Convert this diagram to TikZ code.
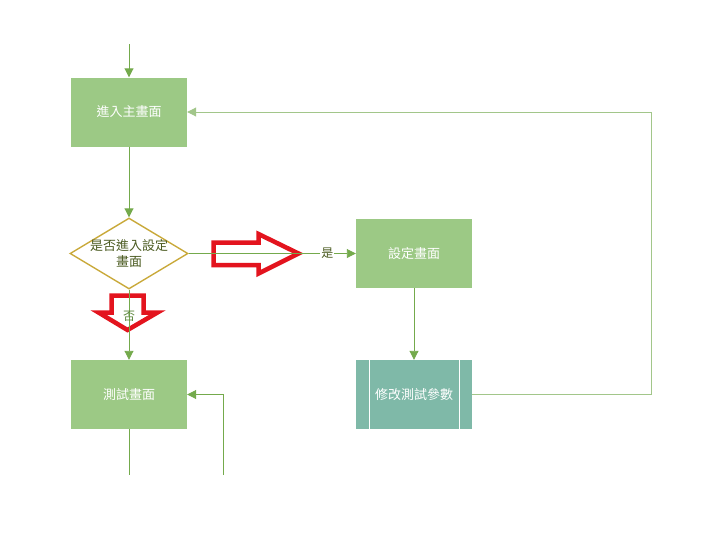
\documentclass[tikz,border=0pt]{standalone}
\usepackage{fontspec}
\setmainfont{Noto Sans CJK TC}
\usetikzlibrary{shapes.geometric,arrows.meta}
\definecolor{boxgreen}{HTML}{9CC985}
\definecolor{linegreen}{HTML}{74AA4C}
\definecolor{paletl}{HTML}{A2C68A}
\definecolor{tealbox}{HTML}{7FB9A8}
\definecolor{diagold}{HTML}{C9A93A}
\definecolor{olivetxt}{HTML}{4A5A20}
\definecolor{redarr}{HTML}{E3141E}
\tikzset{
  procbox/.style={fill=boxgreen, draw=none, minimum width=116pt, minimum height=69pt, inner sep=0pt, text=white, font=\fontsize{13pt}{15pt}\selectfont},
  conn/.style={draw=linegreen, line width=0.9pt, -{Triangle[length=9pt,width=9pt]}},
  plain/.style={draw=linegreen, line width=0.9pt},
  lbl/.style={font=\fontsize{12pt}{14pt}\selectfont, fill=white, inner sep=1pt},
  redblock/.style={draw=redarr, line width=4.5pt, line join=miter, fill=white}
}
\begin{document}
\begin{tikzpicture}[x=1pt,y=-1pt]
\useasboundingbox (0,0) rectangle (728,538);
% nodes
\node[procbox] (main) at (129,112) {進入主畫面};
\node[draw=diagold, line width=1.4pt, diamond, minimum width=118pt, minimum height=71pt, inner sep=0pt,
  label={[align=center, text=olivetxt, font=\fontsize{13pt}{16pt}\selectfont]center:是否進入設定\\畫面}] (dec) at (129,253.5) {};
\node[procbox] (set) at (414,253.5) {設定畫面};
\node[procbox, fill=tealbox] (mod) at (414,394.5) {修改測試參數};
\draw[white, line width=1.2pt] ([xshift=14pt]mod.north west) -- ([xshift=14pt]mod.south west);
\draw[white, line width=1.2pt] ([xshift=-13pt]mod.north east) -- ([xshift=-13pt]mod.south east);
\node[procbox] (test) at (129,394.5) {測試畫面};
\coordinate (start) at (129,44);
\coordinate (c1) at (651,394.5);
\coordinate (c2) at (651,112);
\coordinate (e1) at (129,475);
\coordinate (e2) at (223,475);
\coordinate (c3) at (223,394.5);
% connectors
\draw[conn] (start) -- (main.north);
\draw[conn] (main.south) -- (dec.north);
\draw[conn] (set.south) -- (mod.north);
\draw[conn, draw=paletl] (mod.east) -- (c1) -- (c2) -- (main.east);
\draw[plain] (test.south) -- (e1);
\draw[conn] (e2) -- (c3) -- (test.east);
% red block arrows
\draw[redblock] (213.5,242.5) -- (258.5,242.5) -- (258.5,234) -- (298.5,253.5) -- (258.5,273.5) -- (258.5,265) -- (213.5,265) -- cycle;
\draw[redblock] (111.5,295.5) -- (143.5,295.5) -- (143.5,312.5) -- (157.5,312.5) -- (127.5,330) -- (98.5,312.5) -- (111.5,312.5) -- cycle;
% connectors over arrows
\draw[conn] (dec.east) -- node[lbl, pos=0.83, text=olivetxt] {是} (set.west);
\draw[conn] (dec.south) -- node[lbl, pos=0.38, text=linegreen!80!black, fill=none] {否} (test.north);
\end{tikzpicture}
\end{document}
